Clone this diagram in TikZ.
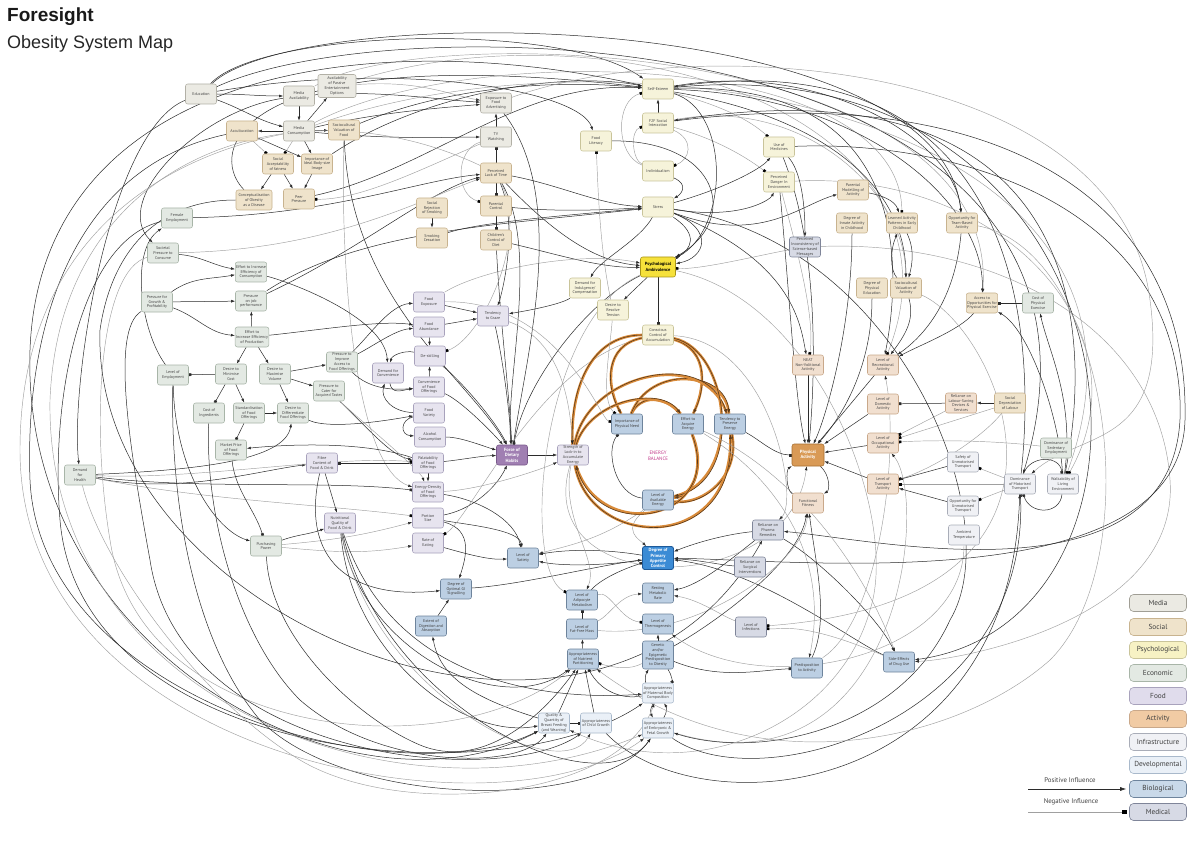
\documentclass[tikz,border=0pt]{standalone}
\usepackage{fontspec}
\setmainfont{PT Sans}
\newfontfamily\titlefont{Liberation Sans}
\usetikzlibrary{arrows.meta}
\pgfdeclarelayer{bg}\pgfdeclarelayer{edges}
\pgfsetlayers{bg,edges,main}
\definecolor{mF}{HTML}{EBEAE3}\definecolor{mD}{HTML}{B2B0A6}
\definecolor{sF}{HTML}{EFE3CB}\definecolor{sD}{HTML}{C8B38F}
\definecolor{yF}{HTML}{F6F3DA}\definecolor{yD}{HTML}{C9C49A}
\definecolor{eF}{HTML}{E3E9E3}\definecolor{eD}{HTML}{A8B5A8}
\definecolor{fF}{HTML}{E7E4EF}\definecolor{fD}{HTML}{A8A2BC}
\definecolor{aF}{HTML}{F1DFCF}\definecolor{aD}{HTML}{C9A88A}
\definecolor{aL}{HTML}{F1CBA4}
\definecolor{iF}{HTML}{F0F1F5}\definecolor{iD}{HTML}{A9ADB8}
\definecolor{dF}{HTML}{EAF0F7}\definecolor{dD}{HTML}{A9B9CB}
\definecolor{bF}{HTML}{BCCFE3}\definecolor{bD}{HTML}{6E849C}
\definecolor{cF}{HTML}{D7DAE5}\definecolor{cD}{HTML}{7F8599}
\definecolor{ambF}{HTML}{F6E13B}\definecolor{ambD}{HTML}{A89418}
\definecolor{forceF}{HTML}{A07FB2}\definecolor{forceD}{HTML}{7A5A8C}
\definecolor{appF}{HTML}{3B8BD5}\definecolor{appD}{HTML}{1E5A99}
\definecolor{paF}{HTML}{D99A56}\definecolor{paD}{HTML}{A66E30}
\definecolor{ebO}{HTML}{D98B3A}\definecolor{ebD}{HTML}{5A3A1A}
\definecolor{lnD}{HTML}{2B2B2B}\definecolor{lnG}{HTML}{A0A0A0}
\definecolor{txt}{HTML}{474747}\definecolor{ebT}{HTML}{C2388A}
\definecolor{lgY}{HTML}{F7F2C4}\definecolor{lgP}{HTML}{E0DCEC}
\begin{document}
\begin{tikzpicture}[x=1pt,y=-1pt,
 box/.style={rounded corners=2.2pt, line width=0.55pt, align=center, inner sep=0.8pt, minimum width=31, minimum height=20, font=\fontsize{4.05}{4.8}\selectfont, text=txt},
 media/.style={box, fill=mF, draw=mD},
 social/.style={box, fill=sF, draw=sD},
 psy/.style={box, fill=yF, draw=yD},
 eco/.style={box, fill=eF, draw=eD},
 food/.style={box, fill=fF, draw=fD},
 act/.style={box, fill=aF, draw=aD},
 infra/.style={box, fill=iF, draw=iD},
 dev/.style={box, fill=dF, draw=dD},
 bio/.style={box, fill=bF, draw=bD, text=black!75},
 medical/.style={box, fill=cF, draw=cD},
 amb/.style={box, fill=ambF, draw=ambD, text=black, minimum width=35, font=\fontsize{4.5}{5.4}\selectfont\bfseries},
 force/.style={box, fill=forceF, draw=forceD, text=white, font=\fontsize{4.6}{5.5}\selectfont\bfseries},
 appet/.style={box, fill=appF, draw=appD, line width=0.9pt, text=white, minimum height=23, font=\fontsize{4.5}{5.1}\selectfont\bfseries},
 pa/.style={box, fill=paF, draw=paD, text=white, minimum width=32, minimum height=22, font=\fontsize{4.6}{5.6}\selectfont\bfseries},
 ebtext/.style={align=center, text=ebT, font=\fontsize{4.9}{6}\selectfont},
 lg/.style={rounded corners=4pt, line width=0.6pt, minimum width=57, minimum height=17, inner sep=0pt, font=\fontsize{7.3}{8}\selectfont, text=black!75},
 pe/.style={draw=lnD, line width=0.5pt, -{Latex[length=4pt,width=2.8pt]}},
 ne/.style={draw=lnD, line width=0.5pt, -{Square[length=2.6pt,width=2.6pt]}},
 gpe/.style={draw=lnG, line width=0.45pt, -{Latex[length=4pt,width=2.8pt,color=lnD]}},
 gne/.style={draw=lnG, line width=0.45pt, -{Square[length=2.6pt,width=2.6pt,color=black]}},
 ebe/.style={draw=ebD, line width=0.6pt, preaction={draw=ebO, line width=2.6pt, -}, -{Latex[length=4.5pt,width=3.2pt]}}
]
\begin{pgfonlayer}{bg}
\fill[white] (0,0) rectangle (1200,845);
\end{pgfonlayer}
\useasboundingbox (0,0) rectangle (1200,845);

% titles
\node[anchor=base west, font=\titlefont\bfseries\fontsize{19}{22}\selectfont, text=black!90, inner sep=0] (title) at (7,22) {Foresight};
\node[anchor=base west, font=\titlefont\fontsize{18}{21}\selectfont, text=black!85, inner sep=0] (subtitle) at (7,49) {Obesity System Map};

% ---------- nodes ----------
\node[media] (edu) at (201,94) {Education};
\node[media] (medav) at (299,96) {Media\\Availability};
\node[media,minimum width=38,minimum height=23] (passive) at (337,86) {Availability\\of Passive\\Entertainment\\Options};
\node[media] (medcon) at (299,131) {Media\\Consumption};
\node[social] (accul) at (242,131) {Acculturation};
\node[social] (scvfood) at (344,130) {Sociocultural\\Valuation of\\Food};
\node[social] (socacc) at (278,164) {Social\\Acceptability\\of fatness};
\node[social] (idealbody) at (317,164) {Importance of\\Ideal Body-size\\Image};
\node[social,minimum width=36] (concept) at (254,200) {Conceptualisation\\of Obesity\\as a Disease};
\node[social] (peer) at (299,199) {Peer\\Pressure};
\node[media] (expadv) at (496,103) {Exposure to\\Food\\Advertising};
\node[media] (tvw) at (496,137) {TV\\Watching};
\node[social] (lacktime) at (496,173) {Perceived\\Lack of Time};
\node[social] (parctrl) at (496,206) {Parental\\Control};
\node[social] (smokrej) at (432,208) {Social\\Rejection\\of Smoking};
\node[social] (smokcess) at (432,238) {Smoking\\Cessation};
\node[social] (childctrl) at (496,240) {Children's\\Control of\\Diet};
\node[psy] (selfest) at (658,89) {Self-Esteem};
\node[psy] (f2p) at (658,123) {F2F Social\\Interaction};
\node[psy] (foodlit) at (596,141) {Food\\Literacy};
\node[psy] (indiv) at (658,171) {Individualism};
\node[psy] (stress) at (658,207) {Stress};
\node[psy] (usemed) at (779,147) {Use of\\Medicines};
\node[psy] (danger) at (779,182) {Perceived\\Danger In\\Environment};
\node[amb] (psyamb) at (658,267) {Psychological\\Ambivalence};
\node[psy] (indulg) at (585,288) {Demand for\\Indulgence/\\Compensation};
\node[psy] (tension) at (613,310) {Desire to\\Resolve\\Tension};
\node[psy] (conscious) at (658,335) {Conscious\\Control of\\Accumulation};
\node[social] (parmod) at (853,190) {Parental\\Modelling of\\Activity};
\node[social] (innate) at (852,223) {Degree of\\Innate Activity\\in Childhood};
\node[social] (learned) at (902,223) {Learned Activity\\Patterns in Early\\Childhood};
\node[social] (team) at (962,223) {Opportunity for\\Team-Based\\Activity};
\node[medical] (inconsist) at (805,247) {Perceived\\Inconsistency of\\Science-based\\Messages};
\node[social] (physed) at (872,288) {Degree of\\Physical\\Education};
\node[social] (scvact) at (906,288) {Sociocultural\\Valuation of\\Activity};
\node[social] (access) at (982,303) {Access to\\Opportunities for\\Physical Exercise};
\node[eco] (costex) at (1038,303) {Cost of\\Physical\\Exercise};
\node[act] (neat) at (808,365) {NEAT\\Non-Volitional\\Activity};
\node[act] (recr) at (883,365) {Level of\\Recreational\\Activity};
\node[act] (domest) at (883,404) {Level of\\Domestic\\Activity};
\node[act] (occup) at (883,443) {Level of\\Occupational\\Activity};
\node[act] (transp) at (883,484) {Level of\\Transport\\Activity};
\node[act] (labour) at (961,403) {Reliance on\\Labour-Saving\\Devices \&\\Services};
\node[social] (socdep) at (1010,403) {Social\\Depreciation\\of Labour};
\node[eco] (sedent) at (1056,448) {Dominance of\\Sedentary\\Employment};
\node[pa] (physact) at (808,455) {Physical\\Activity};
\node[act] (fitness) at (808,503) {Functional\\Fitness};
\node[infra] (safety) at (963,462) {Safety of\\Unmotorised\\Transport};
\node[infra] (motor) at (1020,484) {Dominance\\of Motorised\\Transport};
\node[infra] (walk) at (1063,484) {Walkability of\\Living\\Environment};
\node[infra] (unmot) at (963,506) {Opportunity for\\Unmotorised\\Transport};
\node[infra] (ambient) at (964,535) {Ambient\\Temperature};
\node[eco] (femal) at (177,218) {Female\\Employment};
\node[eco] (societal) at (163,253) {Societal\\Pressure to\\Consume};
\node[eco] (effcons) at (251,272) {Effort to Increase\\Efficiency of\\Consumption};
\node[eco] (growth) at (157,302) {Pressure for\\Growth \&\\Profitability};
\node[eco] (jobperf) at (251,301) {Pressure\\on job\\performance};
\node[eco] (effprod) at (252,337) {Effort to\\Increase Efficiency\\of Production};
\node[eco] (employ) at (173,375) {Level of\\Employment};
\node[eco] (mincost) at (231,374) {Desire to\\Minimise\\Cost};
\node[eco] (maxvol) at (275,374) {Desire to\\Maximise\\Volume};
\node[eco] (costingr) at (209,413) {Cost of\\Ingredients};
\node[eco] (standard) at (249,413) {Standardisation\\of Food\\Offerings};
\node[eco] (differ) at (293,413) {Desire to\\Differentiate\\Food Offerings};
\node[eco] (marketprice) at (231,450) {Market Price\\of Food\\Offerings};
\node[eco] (improveacc) at (342,362) {Pressure to\\Improve\\Access to\\Food Offerings};
\node[eco] (cater) at (329,391) {Pressure to\\Cater for\\Acquired Tastes};
\node[eco] (health) at (80,475) {Demand\\for\\Health};
\node[eco] (purchase) at (266,546) {Purchasing\\Power};
\node[food] (fibre) at (322,463) {Fibre\\Content of\\Food \& Drink};
\node[food] (nutqual) at (340,523) {Nutritional\\Quality of\\Food \& Drink};
\node[food] (foodexp) at (429,302) {Food\\Exposure};
\node[food] (foodab) at (429,327) {Food\\Abundance};
\node[food] (deskill) at (430,356) {De-skilling};
\node[food] (demconv) at (388,373) {Demand for\\Convenience};
\node[food] (convoff) at (429,387) {Convenience\\of Food\\Offerings};
\node[food] (variety) at (429,413) {Food\\Variety};
\node[food] (alcohol) at (430,437) {Alcohol\\Consumption};
\node[food] (palat) at (428,463) {Palatability\\of Food\\Offerings};
\node[food] (endens) at (428,492) {Energy-Density\\of Food\\Offerings};
\node[food] (portion) at (428,518) {Portion\\Size};
\node[food] (rate) at (428,543) {Rate of\\Eating};
\node[food] (graze) at (493,316) {Tendency\\to Graze};
\node[force] (force) at (512,455) {Force of\\Dietary\\Habits};
\node[food] (lockin) at (573,455) {Strength of\\Lock-in to\\Accumulate\\Energy};
\node[bio] (impneed) at (627,424) {Importance of\\Physical Need};
\node[bio] (effacq) at (688,424) {Effort to\\Acquire\\Energy};
\node[bio] (preserve) at (730,424) {Tendency to\\Preserve\\Energy};
\node[bio] (availen) at (658,500) {Level of\\Available\\Energy};
\node[ebtext] (ebal) at (658,456) {ENERGY\\BALANCE};
\node[bio] (satiety) at (523,558) {Level of\\Satiety};
\node[appet] (appetite) at (658,558) {Degree of\\Primary\\Appetite\\Control};
\node[bio] (gisig) at (456,589) {Degree of\\Optimal GI\\Signalling};
\node[bio] (digest) at (431,626) {Extent of\\Digestion and\\Absorption};
\node[bio] (adipo) at (582,600) {Level of\\Adipocyte\\Metabolism};
\node[bio] (rmr) at (658,593) {Resting\\Metabolic\\Rate};
\node[bio] (ffm) at (582,629) {Level of\\Fat-Free Mass};
\node[bio] (thermo) at (658,624) {Level of\\Thermogenesis};
\node[bio] (partition) at (583,659) {Appropriateness\\of Nutrient\\Partitioning};
\node[bio,minimum height=28] (genetic) at (658,655) {Genetic\\and/or\\Epigenetic\\Predisposition\\to Obesity};
\node[bio] (predispact) at (807,668) {Predisposition\\to Activity};
\node[bio] (sideeff) at (899,662) {Side-Effects\\of Drug Use};
\node[dev] (maternal) at (658,693) {Appropriateness\\of Maternal Body\\Composition};
\node[dev] (breast) at (554,723) {Quality \&\\Quantity of\\Breast Feeding\\(and Weaning)};
\node[dev] (childgr) at (596,723) {Appropriateness\\of Child Growth};
\node[dev] (embryo) at (658,728) {Appropriateness\\of Embryonic \&\\Fetal Growth};
\node[medical] (pharma) at (768,530) {Reliance on\\Pharma\\Remedies};
\node[medical] (surgical) at (750,567) {Reliance on\\Surgical\\Interventions};
\node[medical] (infect) at (751,627) {Level of\\Infections};

% ---------- legend ----------
\node[lg, fill=mF, draw=mD!90!black] (lgMedia) at (1158,603) {Media};
\node[lg, fill=sF, draw=sD] (lgSocial) at (1158,627) {Social};
\node[lg, fill=lgY, draw=yD] (lgPsy) at (1158,650) {Psychological};
\node[lg, fill=eF, draw=eD] (lgEco) at (1158,673) {Economic};
\node[lg, fill=lgP, draw=fD] (lgFood) at (1158,696) {Food};
\node[lg, fill=aL, draw=aD] (lgAct) at (1158,719) {Activity};
\node[lg, fill=iF, draw=iD] (lgInfra) at (1158,742) {Infrastructure};
\node[lg, fill=dF, draw=dD] (lgDev) at (1158,765) {Developmental};
\node[lg, fill=bF!80!white, draw=bD] (lgBio) at (1158,789) {Biological};
\node[lg, fill=cF, draw=cD] (lgMed) at (1158,812) {Medical};
\node[font=\fontsize{6.8}{8}\selectfont, text=black!75] (posLab) at (1070,780) {Positive Influence};
\node[font=\fontsize{6.8}{8}\selectfont, text=black!75] (negLab) at (1071,802) {Negative Influence};
\coordinate (posS) at (1028,789);
\coordinate (negS) at (1028,812);

\begin{pgfonlayer}{edges}
\draw[draw=lnD, line width=0.6pt, -{Latex[length=6pt,width=4pt]}, shorten >=3pt] (posS) -- (lgBio);
\draw[draw=lnG, line width=0.6pt, -{Square[length=4pt,width=4pt,color=black]}, shorten >=3pt] (negS) -- (lgMed);

% ---- top-left cluster ----
\draw[pe] (edu) to[out=0,in=180] (medav);
\draw[pe] (edu) to[out=-20,in=165] (medcon);
\draw[pe] (medav) -- (medcon);
\draw[pe] (medcon) -- (passive);
\draw[pe] (medcon) -- (accul);
\draw[pe] (medcon) -- (scvfood);
\draw[pe] (medcon) -- (idealbody);
\draw[gne] (medcon) -- (socacc);
\draw[pe] (accul) -- (idealbody);
\draw[gne] (accul) -- (socacc);
\draw[pe] (socacc) -- (concept);
\draw[pe] (socacc) -- (peer);
\draw[pe] (idealbody) -- (peer);
\draw[gne] (tvw) .. controls (420,170) and (360,200) .. (peer);
\draw[pe] (concept) .. controls (205,150) and (240,40) .. (selfest);

% ---- top arcs ----
\draw[pe] (edu) .. controls (260,30) and (560,20) .. (selfest);
\draw[pe] (edu) .. controls (300,0) and (940,5) .. (team);
\draw[gpe] (medav) .. controls (420,20) and (1000,40) .. (access);
\draw[gne] (passive) .. controls (620,0) and (980,120) .. (recr);
\draw[gne] (medcon) .. controls (470,40) and (900,50) .. (learned);
\draw[pe] (scvfood) .. controls (560,40) and (905,90) .. (scvact);
\draw[pe] (idealbody) .. controls (420,95) and (560,70) .. (selfest);
\draw[pe] (peer) .. controls (430,170) and (520,80) .. (selfest);
\draw[pe] (edu) .. controls (400,2) and (1160,20) .. (motor);
\draw[gne] (medcon) .. controls (620,15) and (1200,110) .. (walk);
\draw[pe] (selfest) .. controls (820,60) and (955,140) .. (team);
\draw[pe] (selfest) .. controls (860,95) and (985,200) .. (access);
\draw[gpe] (f2p) .. controls (800,95) and (905,190) .. (scvact);
\draw[gne] (selfest) .. controls (720,105) and (750,120) .. (usemed);
\draw[gne] (f2p) .. controls (720,140) and (750,160) .. (danger);
\draw[pe] (motor) .. controls (1040,300) and (1000,40) .. (selfest);
\draw[pe] (walk) .. controls (1100,300) and (1060,60) .. (f2p);
\draw[pe] (usemed) .. controls (950,140) and (1170,200) .. (1180,400) .. controls (1190,610) and (880,540) .. (pharma);
\draw[gne] (danger) .. controls (1000,170) and (1150,330) .. (walk);
\draw[gpe] (inconsist) .. controls (1000,240) and (1160,330) .. (1170,480) .. controls (1180,620) and (960,660) .. (sideeff);
\draw[pe] (selfest) .. controls (900,80) and (905,250) .. (recr);
\draw[gpe] (expadv) .. controls (700,30) and (1120,60) .. (1150,300) .. controls (1170,450) and (1080,430) .. (motor);

% ---- media / time / stress ----
\draw[pe] (medcon) .. controls (380,112) and (440,108) .. (expadv);
\draw[pe] (medav) .. controls (380,90) and (440,100) .. (expadv);
\draw[gpe] (passive) .. controls (420,80) and (450,95) .. (expadv);
\draw[pe] (medcon) .. controls (400,140) and (450,137) .. (tvw);
\draw[pe] (femal) .. controls (330,215) and (420,180) .. (lacktime);
\draw[pe] (jobperf) .. controls (360,250) and (430,190) .. (lacktime);
\draw[gpe] (societal) .. controls (330,250) and (420,200) .. (lacktime);
\draw[pe] (lacktime) .. controls (560,185) and (600,205) .. (stress);
\draw[pe] (parctrl) .. controls (560,212) and (600,210) .. (stress);
\draw[pe] (smokcess) .. controls (480,222) and (570,215) .. (stress);
\draw[pe] (jobperf) .. controls (360,230) and (500,225) .. (stress);
\draw[ne] (lacktime) -- (tvw);
\draw[ne] (lacktime) -- (parctrl);
\draw[ne] (parctrl) -- (childctrl);
\draw[pe] (tvw) -- (expadv);
\draw[pe] (smokrej) -- (smokcess);
\draw[gne] (tvw) .. controls (455,150) and (455,195) .. (parctrl);
\draw[pe] (stress) .. controls (700,235) and (690,250) .. (psyamb);
\draw[pe] (stress) .. controls (715,230) and (705,258) .. (psyamb);
\draw[pe] (stress) .. controls (640,240) and (600,260) .. (indulg);
\draw[pe] (stress) .. controls (720,190) and (760,170) .. (usemed);
\draw[pe] (stress) .. controls (740,220) and (770,200) .. (danger);
\draw[pe] (psyamb) -- (tension);
\draw[ne] (psyamb) -- (conscious);
\draw[pe] (indulg) .. controls (560,305) and (520,312) .. (graze);
\draw[ne] (selfest) .. controls (730,110) and (730,230) .. (psyamb);
\draw[gne] (inconsist) .. controls (760,255) and (700,270) .. (psyamb);
\draw[pe] (indiv) .. controls (690,185) and (680,195) .. (stress);
\draw[pe] (f2p) -- (selfest);
\draw[gne] (indiv) .. controls (615,155) and (615,100) .. (selfest);
\draw[gne] (indiv) .. controls (632,160) and (630,130) .. (f2p);
\draw[gne] (f2p) .. controls (695,140) and (690,160) .. (indiv);
\draw[pe] (foodlit) .. controls (720,140) and (740,220) .. (psyamb);
\draw[gne] (tension) .. controls (600,250) and (598,190) .. (foodlit);
\draw[pe] (edu) .. controls (400,60) and (580,90) .. (foodlit);
\draw[pe] (lacktime) .. controls (560,240) and (600,262) .. (psyamb);
\draw[pe] (childctrl) .. controls (560,255) and (600,268) .. (psyamb);
\draw[gpe] (foodexp) .. controls (480,270) and (580,250) .. (psyamb);

% ---- into force ----
\draw[pe] (lacktime) .. controls (540,250) and (505,380) .. (force);
\draw[pe] (scvfood) .. controls (350,300) and (470,380) .. (force);
\draw[pe] (expadv) .. controls (570,200) and (525,360) .. (force);
\draw[ne] (psyamb) .. controls (590,300) and (525,380) .. (force);
\draw[pe] (childctrl) .. controls (500,320) and (510,400) .. (force);
\draw[pe] (graze) .. controls (505,370) and (510,420) .. (force);
\draw[gpe] (scvfood) .. controls (340,300) and (360,470) .. (endens);

% ---- economic ----
\draw[pe] (societal) to[out=-5,in=170] (effcons);
\draw[pe] (growth) to[out=35,in=190] (effcons);
\draw[pe] (growth) -- (jobperf);
\draw[pe] (growth) to[out=-20,in=175] (effprod);
\draw[pe] (effprod) -- (jobperf);
\draw[pe] (effprod) -- (mincost);
\draw[pe] (effprod) -- (maxvol);
\draw[ne] (mincost) -- (employ);
\draw[ne] (mincost) -- (costingr);
\draw[pe] (mincost) -- (standard);
\draw[pe] (standard) -- (differ);
\draw[ne] (standard) -- (marketprice);
\draw[pe] (maxvol) -- (differ);
\draw[pe] (maxvol) -- (improveacc);
\draw[pe] (maxvol) -- (cater);
\draw[pe] (employ) .. controls (140,330) and (130,250) .. (femal);
\draw[pe] (effcons) .. controls (300,285) and (385,320) .. (demconv);
\draw[pe] (effprod) .. controls (320,330) and (380,320) .. (foodab);
\draw[pe] (improveacc) .. controls (370,335) and (390,305) .. (foodexp);
\draw[pe] (improveacc) .. controls (375,345) and (395,330) .. (foodab);
\draw[pe] (improveacc) .. controls (370,390) and (395,390) .. (convoff);
\draw[pe] (cater) .. controls (370,430) and (390,455) .. (palat);
\draw[ne] (palat) -- (fibre);
\draw[pe] (palat) .. controls (360,440) and (280,445) .. (marketprice);
\draw[pe] (health) .. controls (200,470) and (285,460) .. (differ);
\draw[pe] (health) .. controls (180,495) and (260,470) .. (fibre);
\draw[ne] (health) .. controls (200,490) and (330,480) .. (endens);
\draw[gne] (health) .. controls (200,500) and (330,505) .. (portion);
\draw[gne] (health) .. controls (200,480) and (330,455) .. (palat);
\draw[pe] (fibre) -- (nutqual);
\draw[pe] (purchase) to[out=20,in=200] (nutqual);
\draw[gpe] (purchase) to[out=5,in=195] (portion);
\draw[gpe] (purchase) to[out=-5,in=190] (rate);
\draw[ne] (marketprice) .. controls (235,490) and (255,510) .. (purchase);
\draw[pe] (employ) .. controls (175,470) and (215,530) .. (purchase);
\draw[pe] (fibre) .. controls (300,560) and (350,600) .. (gisig);
\draw[gpe] (cater) .. controls (360,420) and (420,470) .. (endens);
\draw[pe] (differ) .. controls (330,430) and (390,420) .. (variety);

% ---- food ----
\draw[pe] (foodexp) -- (graze);
\draw[pe] (foodab) -- (graze);
\draw[pe] (foodab) -- (deskill);
\draw[pe] (convoff) -- (deskill);
\draw[pe] (deskill) .. controls (405,350) and (392,355) .. (demconv);
\draw[pe] (demconv) .. controls (392,395) and (402,390) .. (convoff);
\draw[pe] (variety) .. controls (392,412) and (380,398) .. (demconv);
\draw[pe] (variety) .. controls (400,420) and (400,435) .. (alcohol);
\draw[pe] (alcohol) .. controls (460,437) and (480,445) .. (force);
\draw[pe] (convoff) .. controls (460,400) and (490,430) .. (force);
\draw[pe] (deskill) .. controls (460,380) and (495,420) .. (force);
\draw[pe] (palat) .. controls (460,460) and (480,456) .. (force);
\draw[pe] (palat) -- (endens);
\draw[pe] (portion) .. controls (470,510) and (495,490) .. (force);
\draw[pe] (portion) .. controls (475,530) and (465,560) .. (gisig);
\draw[pe] (endens) .. controls (480,500) and (515,520) .. (satiety);
\draw[pe] (portion) .. controls (470,525) and (520,530) .. (satiety);
\draw[pe] (rate) .. controls (470,555) and (490,560) .. (satiety);
\draw[pe] (force) -- (lockin);
\draw[gne] (lacktime) .. controls (530,240) and (480,340) .. (deskill);
\draw[pe] (lacktime) .. controls (520,230) and (500,300) .. (graze);
\draw[gpe] (endens) .. controls (480,490) and (540,470) .. (lockin);
\draw[gne] (conscious) .. controls (540,360) and (470,520) .. (rate);

% ---- biological ----
\draw[pe] (appetite) .. controls (600,548) and (560,550) .. (satiety);
\draw[pe] (appetite) .. controls (600,566) and (560,566) .. (satiety);
\draw[pe] (gisig) .. controls (520,585) and (600,565) .. (appetite);
\draw[pe] (digest) -- (gisig);
\draw[ne] (adipo) .. controls (600,580) and (620,570) .. (appetite);
\draw[ne] (ffm) -- (adipo);
\draw[pe] (partition) -- (ffm);
\draw[gpe] (ffm) .. controls (610,615) and (620,595) .. (rmr);
\draw[gne] (adipo) .. controls (610,590) and (620,620) .. (thermo);
\draw[pe] (maternal) .. controls (645,682) and (645,675) .. (genetic);
\draw[ne] (genetic) .. controls (672,675) and (672,682) .. (maternal);
\draw[pe] (maternal) .. controls (650,710) and (650,712) .. (embryo);
\draw[pe] (embryo) .. controls (667,712) and (667,708) .. (maternal);
\draw[ne] (breast) -- (childgr);
\draw[pe] (breast) -- (partition);
\draw[pe] (childgr) -- (partition);
\draw[ne] (maternal) .. controls (620,700) and (600,690) .. (partition);
\draw[gne] (genetic) .. controls (630,670) and (615,668) .. (partition);
\draw[gpe] (infect) .. controls (720,615) and (700,600) .. (rmr);
\draw[pe] (pharma) .. controls (720,535) and (690,545) .. (appetite);
\draw[pe] (pharma) .. controls (730,560) and (700,585) .. (rmr);
\draw[pe] (surgical) .. controls (720,565) and (700,560) .. (appetite);
\draw[pe] (pharma) .. controls (820,560) and (880,620) .. (sideeff);
\draw[pe] (sideeff) .. controls (850,640) and (760,570) .. (appetite);
\draw[ne] (genetic) .. controls (720,680) and (760,670) .. (predispact);
\draw[pe] (predispact) .. controls (830,620) and (815,560) .. (fitness);
\draw[pe] (genetic) .. controls (720,620) and (800,560) .. (fitness);
\draw[gpe] (ffm) .. controls (700,640) and (805,560) .. (fitness);
\draw[gpe] (availen) .. controls (620,530) and (640,540) .. (appetite);
\draw[gne] (sideeff) .. controls (800,620) and (780,630) .. (infect);
\draw[pe] (genetic) -- (thermo);
\draw[pe] (breast) .. controls (480,700) and (440,680) .. (digest);
\draw[gpe] (availen) .. controls (600,540) and (570,545) .. (satiety);

% ---- energy balance ----
\draw[ebe] (conscious) .. controls (710,350) and (705,390) .. (effacq);
\draw[ebe] (conscious) .. controls (605,345) and (605,385) .. (impneed);
\draw[ebe] (impneed) .. controls (640,395) and (665,395) .. (effacq);
\draw[ebe] (impneed) .. controls (650,365) and (725,370) .. (preserve);
\draw[ebe] (lockin) .. controls (585,375) and (705,345) .. (preserve);
\draw[ebe] (lockin) .. controls (590,400) and (660,385) .. (effacq);
\draw[ebe] (effacq) .. controls (705,465) and (695,495) .. (availen);
\draw[ebe] (preserve) .. controls (740,475) and (705,505) .. (availen);
\draw[ebe] (conscious) .. controls (730,350) and (745,480) .. (availen);
\draw[ebe] (lockin) .. controls (590,550) and (735,555) .. (preserve);
\draw[ebe] (effacq) .. controls (725,520) and (600,545) .. (lockin);
\draw[ebe] (conscious) .. controls (590,335) and (570,390) .. (lockin);
\draw[ne] (availen) .. controls (615,495) and (605,450) .. (impneed);
\draw[gne] (foodexp) .. controls (560,300) and (600,420) .. (impneed);
\draw[gne] (tension) .. controls (610,350) and (600,400) .. (impneed);
\draw[gpe] (graze) .. controls (560,340) and (570,400) .. (lockin);
\draw[gpe] (lockin) .. controls (560,520) and (600,560) .. (adipo);
\draw[gpe] (effacq) .. controls (780,480) and (830,560) .. (predispact);
\draw[gpe] (effacq) .. controls (790,470) and (860,560) .. (sideeff);
\draw[gpe] (lockin) .. controls (530,600) and (790,600) .. (physact);
\draw[gne] (psyamb) .. controls (540,320) and (520,570) .. (adipo);
\draw[gpe] (conscious) .. controls (770,340) and (800,500) .. (pharma);

% ---- activity ----
\draw[pe] (parmod) .. controls (880,195) and (895,200) .. (learned);
\draw[pe] (learned) .. controls (915,250) and (912,265) .. (scvact);
\draw[pe] (scvact) .. controls (890,270) and (890,250) .. (learned);
\draw[pe] (usemed) .. controls (800,170) and (805,200) .. (inconsist);
\draw[pe] (stress) .. controls (760,245) and (800,205) .. (parmod);
\draw[ne] (costex) -- (access);
\draw[pe] (access) .. controls (960,330) and (920,345) .. (recr);
\draw[pe] (team) .. controls (955,300) and (925,335) .. (recr);
\draw[pe] (scvact) .. controls (915,320) and (905,335) .. (recr);
\draw[pe] (recr) -- (physact);
\draw[pe] (domest) -- (physact);
\draw[pe] (occup) -- (physact);
\draw[pe] (transp) -- (physact);
\draw[pe] (neat) -- (physact);
\draw[ne] (labour) -- (domest);
\draw[pe] (socdep) -- (labour);
\draw[gne] (labour) -- (occup);
\draw[gne] (socdep) -- (occup);
\draw[gne] (socdep) .. controls (980,440) and (930,470) .. (transp);
\draw[gne] (sedent) .. controls (990,440) and (930,440) .. (occup);
\draw[pe] (safety) -- (transp);
\draw[pe] (unmot) -- (transp);
\draw[gne] (motor) -- (transp);
\draw[gne] (motor) -- (safety);
\draw[gne] (motor) -- (unmot);
\draw[ne] (motor) .. controls (1030,455) and (1060,455) .. (walk);
\draw[ne] (walk) .. controls (1060,515) and (1030,515) .. (motor);
\draw[pe] (physact) .. controls (830,475) and (830,490) .. (fitness);
\draw[pe] (fitness) .. controls (786,490) and (786,470) .. (physact);
\draw[pe] (physed) .. controls (872,380) and (830,430) .. (physact);
\draw[pe] (innate) .. controls (852,330) and (825,420) .. (physact);
\draw[ne] (preserve) .. controls (760,440) and (775,455) .. (physact);
\draw[pe] (stress) .. controls (790,260) and (800,320) .. (neat);
\draw[gne] (danger) .. controls (800,260) and (815,320) .. (neat);
\draw[pe] (danger) .. controls (790,300) and (795,400) .. (physact);
\draw[pe] (usemed) .. controls (820,250) and (815,380) .. (physact);
\draw[gpe] (ambient) .. controls (964,660) and (760,700) .. (thermo);
\draw[gpe] (predispact) .. controls (880,620) and (900,450) .. (recr);
\draw[gpe] (embryo) .. controls (900,800) and (930,500) .. (occup);
\draw[pe] (walk) .. controls (1060,420) and (1030,330) .. (access);
\draw[pe] (walk) .. controls (1075,400) and (1048,350) .. (costex);
\draw[gne] (scvact) .. controls (1000,330) and (1120,600) .. (infect);

% ---- right / bottom arcs ----
\draw[pe] (stress) .. controls (900,240) and (1010,520) .. (950,620) .. controls (900,730) and (760,760) .. (embryo);
\draw[gpe] (psyamb) .. controls (820,300) and (900,520) .. (870,610) .. controls (840,720) and (700,790) .. (breast);
\draw[pe] (childgr) .. controls (700,830) and (1010,800) .. (motor);
\draw[ne] (embryo) .. controls (760,800) and (1030,720) .. (motor);
\draw[pe] (selfest) .. controls (1150,40) and (1200,620) .. (sideeff);
\draw[pe] (f2p) .. controls (1000,80) and (1190,200) .. (1185,420) .. controls (1180,600) and (800,560) .. (appetite);
\draw[gpe] (team) .. controls (1110,250) and (1150,560) .. (1050,660) .. controls (960,740) and (760,790) .. (partition);

% ---- left / bottom arcs ----
\draw[pe] (edu) .. controls (110,130) and (70,380) .. (health);
\draw[pe] (medav) .. controls (200,110) and (110,200) .. (societal);
\draw[pe] (accul) .. controls (60,170) and (25,350) .. (30,480) .. controls (40,700) and (400,800) .. (breast);
\draw[pe] (femal) .. controls (80,240) and (50,400) .. (60,520) .. controls (80,760) and (500,800) .. (maternal);
\draw[gpe] (societal) .. controls (100,270) and (90,420) .. (110,540) .. controls (140,740) and (450,770) .. (partition);
\draw[pe] (growth) .. controls (110,330) and (130,450) .. (150,560) .. controls (180,760) and (500,790) .. (childgr);
\draw[pe] (employ) .. controls (170,520) and (200,650) .. (260,720) .. controls (350,810) and (600,810) .. (embryo);
\draw[gpe] (health) .. controls (100,560) and (200,700) .. (300,760) .. controls (400,820) and (620,800) .. (maternal);
\draw[pe] (costingr) .. controls (205,520) and (240,640) .. (300,700) .. controls (380,770) and (520,770) .. (breast);
\draw[pe] (nutqual) .. controls (350,650) and (460,740) .. (breast);
\draw[pe] (nutqual) .. controls (360,650) and (500,720) .. (partition);
\draw[gpe] (nutqual) .. controls (370,690) and (560,790) .. (childgr);
\draw[pe] (nutqual) .. controls (385,710) and (600,810) .. (embryo);
\draw[pe] (nutqual) .. controls (395,690) and (560,700) .. (maternal);
\draw[pe] (purchase) .. controls (270,640) and (360,720) .. (420,745) .. controls (480,770) and (540,720) .. (partition);
\draw[pe] (selfest) .. controls (350,20) and (40,80) .. (30,350) .. controls (20,650) and (350,830) .. (breast);
\draw[gpe] (lacktime) .. controls (300,80) and (60,150) .. (50,400) .. controls (45,700) and (400,835) .. (embryo);
\draw[pe] (concept) .. controls (150,200) and (110,260) .. (100,330) .. controls (90,620) and (600,830) .. (pharma);
\draw[gpe] (medcon) .. controls (150,160) and (20,250) .. (20,450) .. controls (20,760) and (500,845) .. (embryo);
\end{pgfonlayer}
\end{tikzpicture}
\end{document}
